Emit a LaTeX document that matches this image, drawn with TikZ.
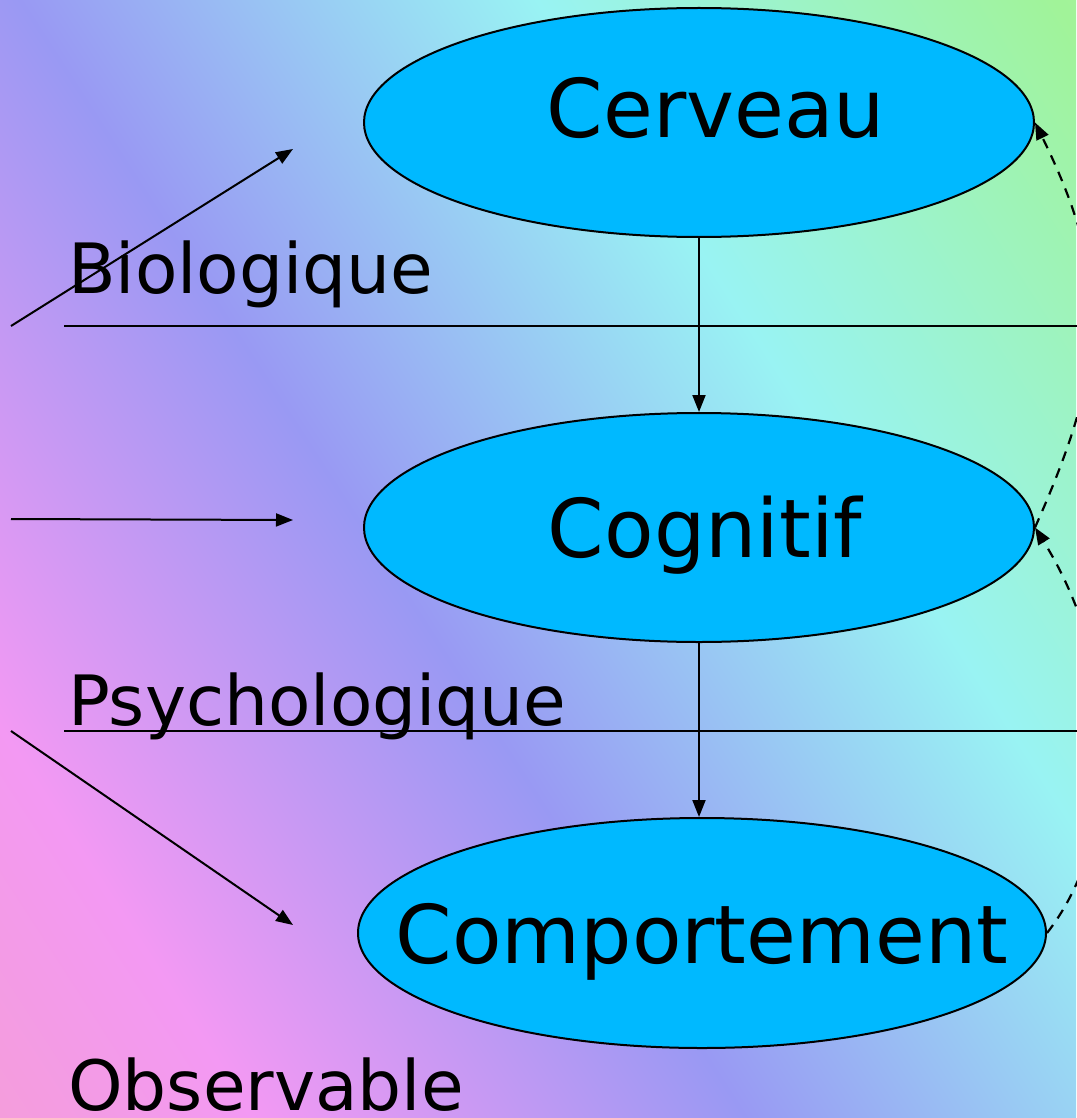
\documentclass[tikz,border=0pt]{standalone}
\usepackage{fontspec}
\setmainfont{DejaVu Sans}
\usetikzlibrary{arrows.meta,shapes.geometric}
\pgfdeclarehorizontalshading{bgshade}{100bp}{rgb(0bp)=(0.96,0.64,0.72); rgb(25bp)=(0.953,0.6,0.953); rgb(44bp)=(0.6,0.6,0.953); rgb(64bp)=(0.6,0.953,0.953); rgb(84bp)=(0.63,0.953,0.6); rgb(100bp)=(0.75,0.96,0.6)}
\definecolor{ellfill}{RGB}{0,185,255}
\begin{document}
\begin{tikzpicture}[x=1pt,y=-1pt,
  ell/.style={ellipse, draw=black, line width=2pt, fill=ellfill, inner sep=0pt},
  ntext/.style={anchor=base, inner sep=0pt, font=\fontsize{81}{90}\selectfont},
  ltext/.style={anchor=base west, inner sep=0pt, font=\fontsize{69.4}{80}\selectfont},
  conn/.style={line width=2pt, -{Triangle[length=17pt,width=13pt]}},
  dconn/.style={conn, line width=2.2pt, dash pattern=on 10pt off 8pt},
  sepline/.style={line width=2pt}]
\useasboundingbox (0,0) rectangle (1076,1118);
\shade[shading=bgshade, shading angle=33] (0,0) rectangle (1076,1118);

% separator lines
\coordinate (s1a) at (64,326);
\coordinate (s1b) at (1078,326);
\coordinate (s2a) at (64,731);
\coordinate (s2b) at (1078,731);
\draw[sepline] (s1a) -- (s1b);
\draw[sepline] (s2a) -- (s2b);

% ellipses
\node[ell, minimum width=670pt, minimum height=229pt] (cer) at (699,122.5) {};
\node[ell, minimum width=670pt, minimum height=229pt] (cog) at (699,527.5) {};
\node[ell, minimum width=688pt, minimum height=230pt] (com) at (702,933) {};

\node[ntext] (cert) at (716,138) {Cerveau};
\node[ntext] (cogt) at (705,557) {Cognitif};
\node[ntext] (comt) at (702,963) {Comportement};

% labels
\node[ltext] (lbio) at (68,293) {Biologique};
\node[ltext] (lpsy) at (68,725) {Psychologique};
\node[ltext] (lobs) at (68,1110) {Observable};

% vertical arrows
\draw[conn] (cer.south) -- (cog.north);
\draw[conn] (cog.south) -- (cog.south |- com.north);

% left arrows
\coordinate (a1s) at (11,326);
\coordinate (a1e) at (293,149);
\coordinate (a2s) at (11,519);
\coordinate (a2e) at (293,520);
\coordinate (a3s) at (11,731);
\coordinate (a3e) at (293,925);
\draw[conn] (a1s) -- (a1e);
\draw[conn] (a2s) -- (a2e);
\draw[conn] (a3s) -- (a3e);

% dashed feedback arrows
\draw[dconn] (com.east) .. controls (1120,840) and (1125,673) .. (cog.east);
\draw[dconn] (cog.east) .. controls (1105,370) and (1115,285) .. (cer.east);
\end{tikzpicture}
\end{document}
